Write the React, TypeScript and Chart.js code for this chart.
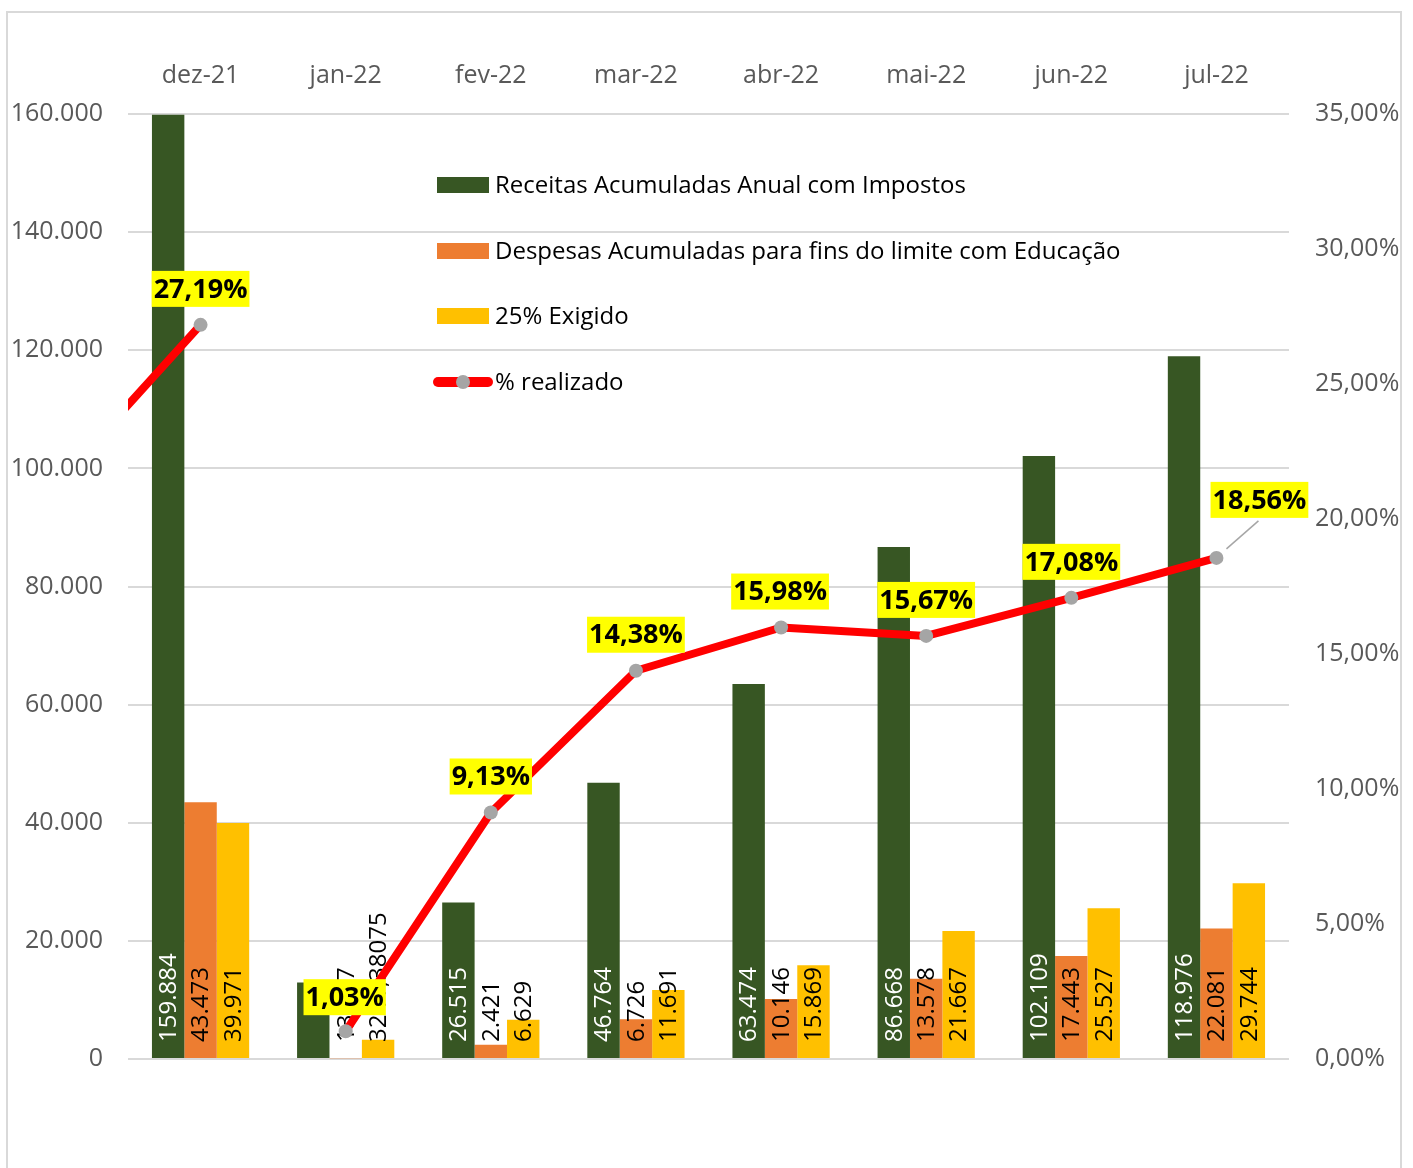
import React, { useEffect, useRef } from "react";
import { Chart, registerables } from "chart.js";
Chart.register(...registerables);

const categories = ["dez-21", "jan-22", "fev-22", "mar-22", "abr-22", "mai-22", "jun-22", "jul-22"];
const receitas = [159884, 12966, 26515, 46764, 63474, 86668, 102109, 118976];
const despesas = [43473, 133.67, 2421, 6726, 10146, 13578, 17443, 22081];
const exigido = [39971, 3241.38075, 6629, 11691, 15869, 21667, 25527, 29744];
const realizado = [27.19, 1.03, 9.13, 14.38, 15.98, 15.67, 17.08, 18.56];
const realizadoAnterior = 21.26;
const receitasLabels = ["159.884", "", "26.515", "46.764", "63.474", "86.668", "102.109", "118.976"];
const despesasLabels = ["43.473", "133,67", "2.421", "6.726", "10.146", "13.578", "17.443", "22.081"];
const exigidoLabels = ["39.971", "3241,38075", "6.629", "11.691", "15.869", "21.667", "25.527", "29.744"];
const realizadoLabels = ["27,19%", "1,03%", "9,13%", "14,38%", "15,98%", "15,67%", "17,08%", "18,56%"];
const seriesNames = [
  "Receitas Acumuladas Anual com Impostos",
  "Despesas Acumuladas para fins do limite com Educação",
  "25% Exigido",
  "% realizado",
];

const FONT = "'Open Sans', 'Noto Sans', sans-serif";
const GREEN = "#375623";
const ORANGE = "#ED7D31";
const YELLOW = "#FFC000";
const RED = "#FF0000";
const GRAY = "#A5A5A5";

const barLabelSets = [receitasLabels, despesasLabels, exigidoLabels];
const barLabelColors = ["#FFFFFF", "#000000", "#000000"];
const lineLabelOffsets: [number, number][] = [
  [0, -36], [-1, -34], [0, -36], [0, -36], [-1, -36], [0, -36], [0, -36], [43, -58],
];

function fmtThousands(v: number) {
  const s = Math.round(v).toString();
  return s.replace(/\B(?=(\d{3})+(?!\d))/g, ".");
}

const customPlugin = {
  id: "custom",
  beforeDatasetDraw(chart: any, args: any) {
    if (args.index !== 3) return;
    const ctx = chart.ctx;
    const xs = chart.scales.x;
    const ys = chart.scales.y1;
    const ca = chart.chartArea;
    ctx.save();
    ctx.beginPath();
    ctx.rect(ca.left, ca.top, ca.right - ca.left, ca.bottom - ca.top);
    ctx.clip();
    ctx.strokeStyle = RED;
    ctx.lineWidth = 8;
    ctx.lineCap = "round";
    ctx.beginPath();
    ctx.moveTo(xs.getPixelForValue(-1), ys.getPixelForValue(realizadoAnterior));
    ctx.lineTo(xs.getPixelForValue(0), ys.getPixelForValue(realizado[0]));
    ctx.stroke();
    ctx.restore();
  },
  afterDatasetDraw(chart: any, args: any) {
    const i = args.index;
    if (i > 2) return;
    const ctx = chart.ctx;
    const meta = chart.getDatasetMeta(i);
    ctx.save();
    ctx.font = `24px ${FONT}`;
    ctx.fillStyle = barLabelColors[i];
    ctx.textAlign = "left";
    ctx.textBaseline = "middle";
    meta.data.forEach((bar: any, j: number) => {
      const txt = barLabelSets[i][j];
      if (!txt) return;
      ctx.save();
      ctx.translate(bar.x, bar.base - 16);
      ctx.rotate(-Math.PI / 2);
      ctx.fillText(txt, 0, 1);
      ctx.restore();
    });
    ctx.restore();
  },
  afterDatasetsDraw(chart: any) {
    const ctx = chart.ctx;
    const meta = chart.getDatasetMeta(3);
    ctx.save();
    const last = meta.data[7];
    ctx.strokeStyle = "#A6A6A6";
    ctx.lineWidth = 1.5;
    ctx.beginPath();
    ctx.moveTo(last.x + 10, last.y - 9);
    ctx.lineTo(last.x + 42, last.y - 37);
    ctx.stroke();
    ctx.font = `bold 27px ${FONT}`;
    ctx.textAlign = "center";
    ctx.textBaseline = "middle";
    meta.data.forEach((pt: any, j: number) => {
      const txt = realizadoLabels[j];
      const [dx, dy] = lineLabelOffsets[j];
      const cx = pt.x + dx;
      const cy = pt.y + dy;
      const w = ctx.measureText(txt).width + 4;
      const h = 36;
      ctx.fillStyle = "#FFFF00";
      ctx.fillRect(cx - w / 2, cy - h / 2, w, h);
      ctx.fillStyle = "#000000";
      ctx.fillText(txt, cx, cy + 1);
    });
    ctx.restore();
  },
  afterDraw(chart: any) {
    const ctx = chart.ctx;
    ctx.save();
    const ys = [185, 251, 316, 382];
    const colors = [GREEN, ORANGE, YELLOW];
    ctx.font = `24px ${FONT}`;
    ctx.textAlign = "left";
    ctx.textBaseline = "middle";
    for (let k = 0; k < 4; k++) {
      const y = ys[k];
      if (k < 3) {
        ctx.fillStyle = colors[k];
        ctx.fillRect(437, y - 8, 52, 16);
      } else {
        ctx.strokeStyle = RED;
        ctx.lineWidth = 10;
        ctx.lineCap = "round";
        ctx.beginPath();
        ctx.moveTo(438, y);
        ctx.lineTo(488, y);
        ctx.stroke();
        ctx.fillStyle = GRAY;
        ctx.beginPath();
        ctx.arc(463, y, 7, 0, Math.PI * 2);
        ctx.fill();
      }
      ctx.fillStyle = "#000000";
      ctx.fillText(seriesNames[k], 495, y + 1);
    }
    ctx.restore();
  },
};

export default function App() {
  const ref = useRef<HTMLCanvasElement | null>(null);
  useEffect(() => {
    if (!ref.current) return;
    const chart = new Chart(ref.current, {
      type: "bar",
      data: {
        labels: categories,
        datasets: [
          { label: seriesNames[0], data: receitas, backgroundColor: GREEN, yAxisID: "y", order: 1 },
          { label: seriesNames[1], data: despesas, backgroundColor: ORANGE, yAxisID: "y", order: 1 },
          { label: seriesNames[2], data: exigido, backgroundColor: YELLOW, yAxisID: "y", order: 1 },
          {
            type: "line",
            label: seriesNames[3],
            data: realizado,
            yAxisID: "y1",
            order: 0,
            borderColor: RED,
            borderWidth: 8,
            borderCapStyle: "round",
            borderJoinStyle: "round",
            segment: {
              borderColor: (c: any) => (c.p0DataIndex === 0 ? "rgba(0,0,0,0)" : RED),
            },
            pointRadius: 7,
            pointHoverRadius: 7,
            pointBackgroundColor: GRAY,
            pointBorderWidth: 0,
            tension: 0,
          } as any,
        ],
      },
      options: {
        responsive: false,
        animation: false,
        events: [],
        datasets: { bar: { categoryPercentage: 0.67, barPercentage: 1.0 } },
        layout: { padding: { left: 0, right: 0, top: 0, bottom: 109 } },
        plugins: { legend: { display: false }, tooltip: { enabled: false } },
        scales: {
          x: {
            position: "top",
            grid: { display: false, drawTicks: false },
            border: { display: false },
            ticks: { font: { family: FONT, size: 25 }, color: "#595959", padding: 23, maxRotation: 0 },
            afterFit: (s: any) => { s.height = 114; },
          },
          y: {
            position: "left",
            min: 0,
            max: 160000,
            grid: { color: "#D9D9D9", lineWidth: 2, drawTicks: false },
            border: { display: false },
            ticks: {
              stepSize: 20000,
              font: { family: FONT, size: 25 },
              color: "#595959",
              padding: 25,
              callback: (v: any) => fmtThousands(Number(v)),
            },
            afterFit: (s: any) => { s.width = 128; },
          },
          y1: {
            position: "right",
            min: 0,
            max: 35,
            grid: { display: false, drawTicks: false },
            border: { display: false },
            ticks: {
              stepSize: 5,
              font: { family: FONT, size: 25 },
              color: "#595959",
              padding: 26,
              callback: (v: any) => Number(v).toFixed(2).replace(".", ",") + "%",
            },
            afterFit: (s: any) => { s.width = 124; },
          },
        },
      } as any,
      plugins: [customPlugin],
    });
    return () => chart.destroy();
  }, []);
  return (
    <div style={{ position: "fixed", left: 0, top: 0, width: 1413, height: 1168, background: "#fff", overflow: "hidden" }}>
      <div style={{ position: "absolute", left: 6, top: 11, width: 1396, height: 1170, border: "2px solid #D9D9D9", boxSizing: "border-box" }} />
      <canvas ref={ref} width={1413} height={1168} style={{ position: "absolute", left: 0, top: 0, width: 1413, height: 1168 }} />
    </div>
  );
}
